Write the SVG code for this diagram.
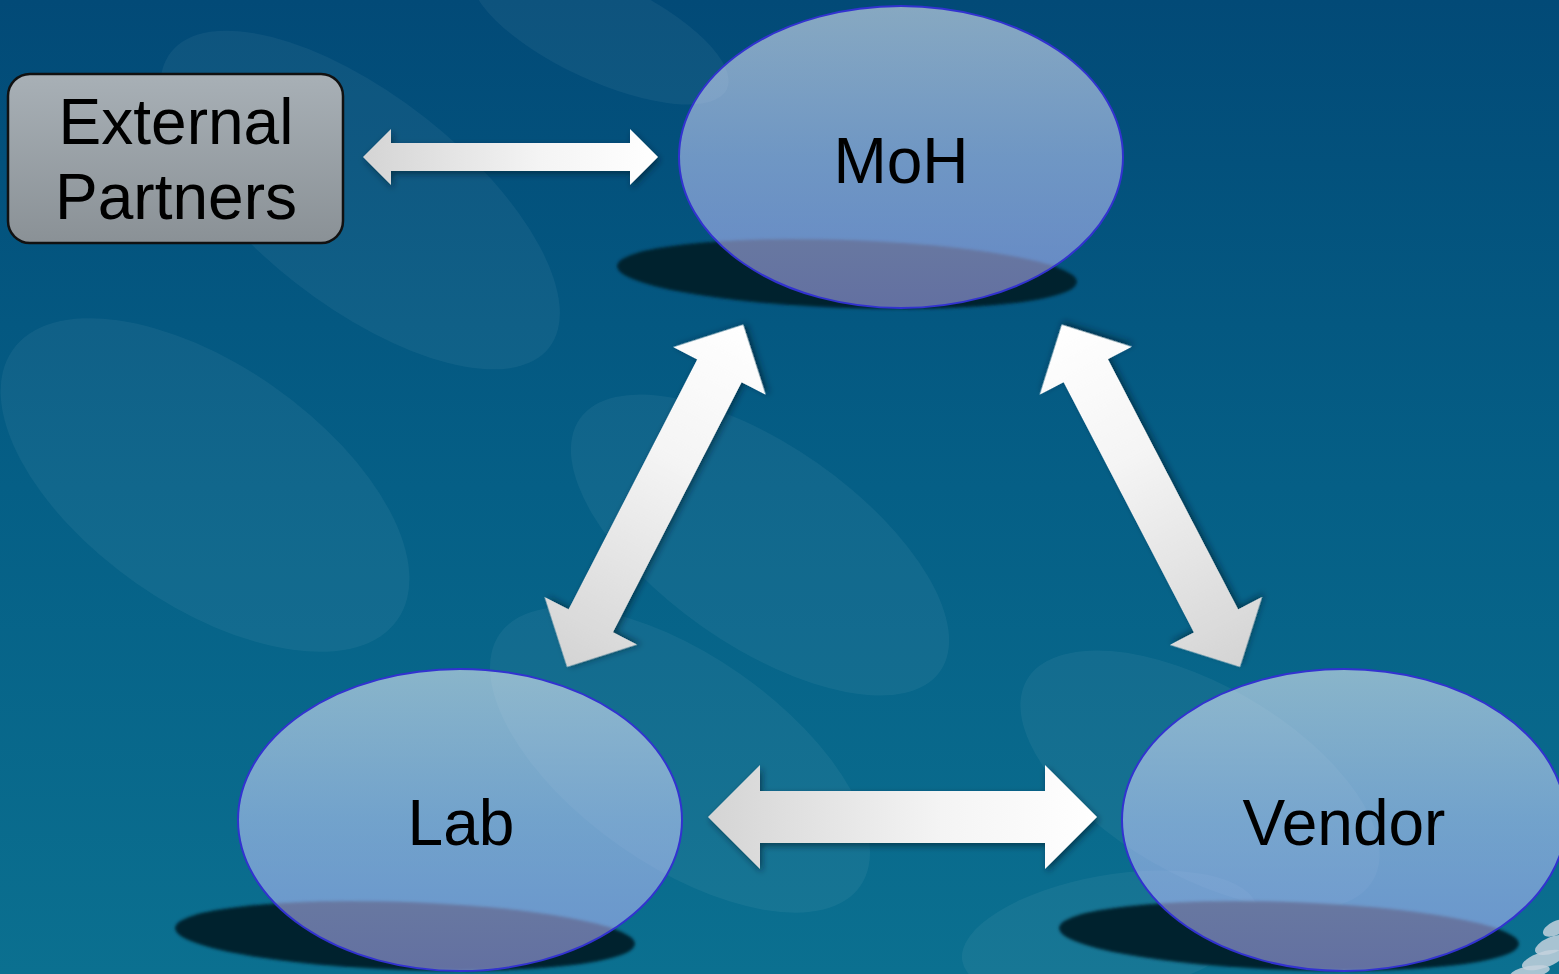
<svg xmlns="http://www.w3.org/2000/svg" width="1559" height="974" viewBox="0 0 1559 974">
<defs>
<linearGradient id="bg" x1="0" y1="0" x2="0" y2="1">
<stop offset="0" stop-color="#024a77"/>
<stop offset="0.5" stop-color="#055f86"/>
<stop offset="1" stop-color="#0b7090"/>
</linearGradient>
<linearGradient id="oval" x1="0" y1="0" x2="0" y2="1">
<stop offset="0" stop-color="#f4f6ff"/>
<stop offset="0.5" stop-color="#c8d0ff"/>
<stop offset="1" stop-color="#b4b0ff"/>
</linearGradient>
<linearGradient id="box" x1="0" y1="0" x2="0" y2="1">
<stop offset="0" stop-color="#a8b0b6"/>
<stop offset="1" stop-color="#8a9196"/>
</linearGradient>
<linearGradient id="arr" x1="0" y1="0" x2="1" y2="0">
<stop offset="0" stop-color="#d4d4d4"/>
<stop offset="0.6" stop-color="#f4f4f4"/>
<stop offset="1" stop-color="#ffffff"/>
</linearGradient>
<filter id="ds" x="-20%" y="-40%" width="140%" height="180%">
<feDropShadow dx="2" dy="3" stdDeviation="3" flood-color="#001a2a" flood-opacity="0.6"/>
</filter>
<filter id="blur" x="-10%" y="-50%" width="120%" height="200%">
<feGaussianBlur stdDeviation="1.5"/>
</filter>
<style>
.deco{fill:#ffffff;fill-opacity:0.05}
.oval{fill:url(#oval);fill-opacity:0.55;stroke:#3232d0;stroke-width:2}
.shadow{fill:#00202e}
.label{font-family:"Liberation Sans",Arial,sans-serif;font-size:64px;fill:#000000;text-anchor:middle}
.arrow{fill:url(#arr);filter:url(#ds)}
.petal{fill:#c4d2de;fill-opacity:0.85}
</style>
</defs>
<rect x="0" y="0" width="1559" height="974" fill="url(#bg)"/>
<g id="background-decor">
<ellipse class="deco" cx="360" cy="200" rx="240" ry="105" transform="rotate(38 360 200)"/>
<ellipse class="deco" cx="205" cy="485" rx="235" ry="120" transform="rotate(35 205 485)"/>
<ellipse class="deco" cx="760" cy="545" rx="220" ry="100" transform="rotate(35 760 545)"/>
<ellipse class="deco" cx="680" cy="760" rx="220" ry="105" transform="rotate(35 680 760)"/>
<ellipse class="deco" cx="1200" cy="780" rx="200" ry="95" transform="rotate(30 1200 780)"/>
<ellipse class="deco" cx="1110" cy="935" rx="150" ry="60" transform="rotate(-10 1110 935)"/>
<ellipse class="deco" cx="600" cy="30" rx="140" ry="50" transform="rotate(25 600 30)"/>
<ellipse class="petal" cx="1556" cy="928" rx="14" ry="7" transform="rotate(-25 1556 928)"/>
<ellipse class="petal" cx="1552" cy="945" rx="18" ry="8" transform="rotate(-22 1552 945)"/>
<ellipse class="petal" cx="1543" cy="960" rx="22" ry="8" transform="rotate(-18 1543 960)"/>
<ellipse class="petal" cx="1530" cy="972" rx="20" ry="6" transform="rotate(-10 1530 972)"/>
</g>
<g id="connectors">
<path class="arrow" transform="translate(363 157)" d="M0,0 L28,-28 L28,-14 L267,-14 L267,-28 L295,0 L267,28 L267,14 L28,14 L28,28 Z"/>
<path class="arrow" transform="translate(567 667) rotate(-62.77)" d="M0,0 L52,-52 L52,-25 L333,-25 L333,-52 L385,0 L333,52 L333,25 L52,25 L52,52 Z"/>
<path class="arrow" transform="translate(1240 667) rotate(-117.5)" d="M0,0 L52,-52 L52,-25 L334,-25 L334,-52 L386,0 L334,52 L334,25 L52,25 L52,52 Z"/>
<path class="arrow" transform="translate(708 817)" d="M0,0 L52,-52 L52,-26 L337,-26 L337,-52 L389,0 L337,52 L337,26 L52,26 L52,52 Z"/>
</g>
<g id="external-partners">
<rect x="8" y="74" width="335" height="169" rx="22" ry="22" fill="url(#box)" stroke="#111111" stroke-width="2.5"/>
<text class="label" x="176" y="144">External</text>
<text class="label" x="176" y="219">Partners</text>
</g>
<g id="moh">
<ellipse class="shadow" cx="847" cy="274" rx="230" ry="34" transform="rotate(2 847 274)" filter="url(#blur)"/>
<ellipse class="oval" cx="901" cy="157" rx="222" ry="151"/>
<text class="label" x="901" y="183">MoH</text>
</g>
<g id="lab">
<ellipse class="shadow" cx="405" cy="936" rx="230" ry="34" transform="rotate(2 405 936)" filter="url(#blur)"/>
<ellipse class="oval" cx="460" cy="820" rx="222" ry="151"/>
<text class="label" x="461" y="845">Lab</text>
</g>
<g id="vendor">
<ellipse class="shadow" cx="1289" cy="936" rx="230" ry="34" transform="rotate(2 1289 936)" filter="url(#blur)"/>
<ellipse class="oval" cx="1344" cy="820" rx="222" ry="151"/>
<text class="label" x="1344" y="845">Vendor</text>
</g>
</svg>
